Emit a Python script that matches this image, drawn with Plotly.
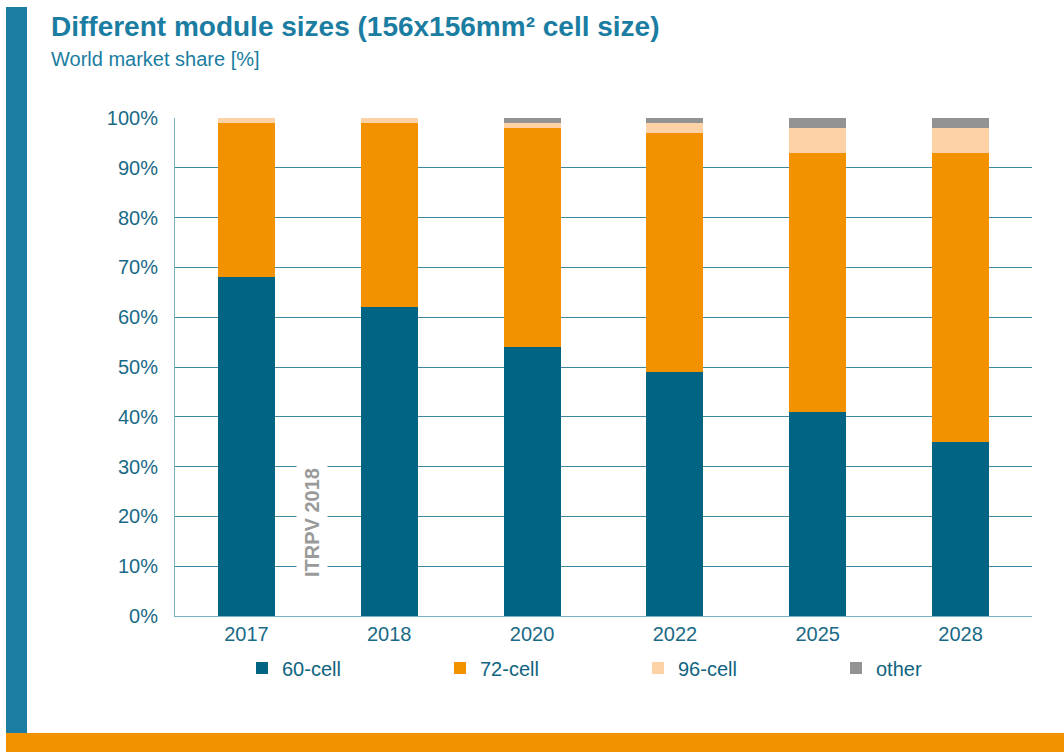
import plotly.graph_objects as go

# Market share of module formats by year (%)
years = ["2017", "2018", "2020", "2022", "2025", "2028"]
cell_60 = [68, 62, 54, 49, 41, 35]
cell_72 = [31, 37, 44, 48, 52, 58]
cell_96 = [1, 1, 1, 2, 5, 5]
other = [0, 0, 1, 1, 2, 2]
pct_ticks = [0, 10, 20, 30, 40, 50, 60, 70, 80, 90, 100]
pct_labels = [f"{v}%" for v in pct_ticks]

series = [
    ("60-cell", cell_60, "#006482"),
    ("72-cell", cell_72, "#F39200"),
    ("96-cell", cell_96, "#FDD2A7"),
    ("other", other, "#939393"),
]

W, H = 1064, 752
L, R, T, B = 175, 32, 118, 136
pw, ph = W - L - R, H - T - B


def px_x(x):
    return (x - L) / pw


def px_y(y):
    return (H - B - y) / ph


fig = go.Figure()
for name, vals, color in series:
    fig.add_trace(go.Bar(
        x=years, y=vals, name=name,
        marker=dict(color=color, line=dict(width=0)),
    ))

tick_color = "#1A6A87"
grid_color = "#3F88A0"

fig.update_layout(
    barmode="stack",
    bargap=0.6,
    width=W, height=H,
    margin=dict(l=L, r=R, t=T, b=B),
    paper_bgcolor="white",
    plot_bgcolor="white",
    font=dict(family="Liberation Sans, Arial, sans-serif", color=tick_color),
    showlegend=True,
    legend=dict(
        orientation="h",
        x=px_x(242), xanchor="left",
        y=px_y(668), yanchor="middle",
        entrywidth=153, entrywidthmode="pixels",
        font=dict(size=20, color="#0F6480"),
        traceorder="normal",
        itemwidth=30,
    ),
    xaxis=dict(
        type="category",
        tickfont=dict(size=20, color=tick_color),
        showline=True, linecolor="#7AB0BF", linewidth=1,
        ticks="", showgrid=False,
    ),
    yaxis=dict(
        range=[0, 100],
        tickvals=pct_ticks,
        ticktext=pct_labels,
        tickfont=dict(size=20, color=tick_color),
        showgrid=True, gridcolor=grid_color, gridwidth=1,
        showline=True, linecolor="#7AB0BF", linewidth=1,
        zeroline=False, ticks="", ticklabelstandoff=12,
    ),
)

# Side and bottom decorative bands
fig.add_shape(type="rect", xref="paper", yref="paper", layer="below",
              x0=px_x(6), x1=px_x(27), y0=px_y(7), y1=px_y(733),
              fillcolor="#1A7DA1", line=dict(width=0))
fig.add_shape(type="rect", xref="paper", yref="paper", layer="below",
              x0=px_x(6), x1=px_x(1064), y0=px_y(733), y1=px_y(752),
              fillcolor="#F39200", line=dict(width=0))

# Title and subtitle
fig.add_annotation(xref="paper", yref="paper", x=px_x(49), y=px_y(27),
                   xanchor="left", yanchor="middle", showarrow=False,
                   text="<b>Different module sizes (156x156mm² cell size)</b>",
                   font=dict(size=28, color="#1A7DA1"))
fig.add_annotation(xref="paper", yref="paper", x=px_x(49), y=px_y(59),
                   xanchor="left", yanchor="middle", showarrow=False,
                   text="World market share [%]",
                   font=dict(size=20, color="#1A7DA1"))

# Source watermark
fig.add_annotation(xref="paper", yref="paper", x=px_x(312), y=px_y(523),
                   xanchor="center", yanchor="middle", showarrow=False,
                   text="<b>ITRPV 2018</b>", textangle=-90,
                   bgcolor="white", borderpad=4,
                   font=dict(size=20, color="#9A9A9A"))

fig.write_html("out.html")
